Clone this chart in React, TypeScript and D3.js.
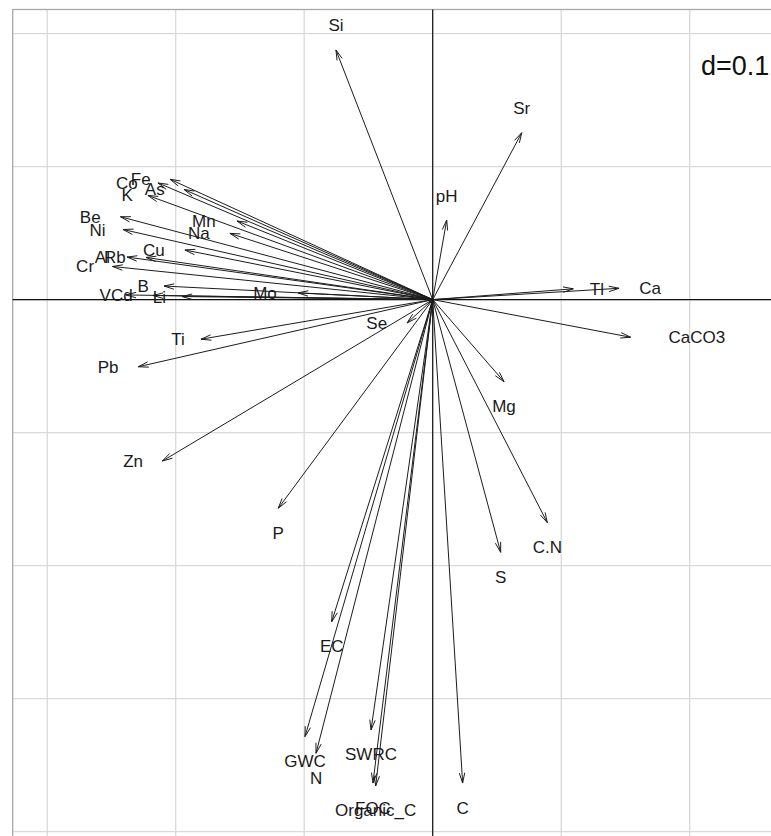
import React, { useEffect, useRef } from "react";
import * as d3 from "d3";

// Variable loadings on the two retained axes (correlation circle style arrows)
const variables = [
  "Si", "Sr", "pH", "Ca", "Tl", "CaCO3", "Mg", "C.N", "S", "C",
  "Organic_C", "FOC", "SWRC", "GWC", "N", "EC", "P", "Zn", "Pb", "Ti",
  "Se", "Mo", "Li", "B", "V", "Cd", "Cr", "Al", "Rb", "Cu",
  "Na", "Mn", "Ni", "Be", "K", "As", "Co", "Fe",
];
const axis1 = [
  -0.0753, 0.0693, 0.0109, 0.145, 0.1094, 0.1541, 0.0555, 0.0892, 0.0529, 0.0233,
  -0.0444, -0.0465, -0.048, -0.0994, -0.0908, -0.0786, -0.1202, -0.2104, -0.2291, -0.1803,
  -0.02, -0.1048, -0.1951, -0.2091, -0.2387, -0.2177, -0.2492, -0.2379, -0.2231, -0.1928,
  -0.1578, -0.1523, -0.241, -0.243, -0.2216, -0.1935, -0.2138, -0.2044,
];
const axis2 = [
  0.1877, 0.1255, 0.0598, 0.0085, 0.0081, -0.0283, -0.0617, -0.1677, -0.19, -0.3635,
  -0.3657, -0.3635, -0.3236, -0.3286, -0.3411, -0.2422, -0.1569, -0.1214, -0.0505, -0.0298,
  -0.0176, 0.005, 0.0023, 0.0102, 0.0035, 0.0031, 0.0249, 0.032, 0.0317, 0.0373,
  0.0498, 0.0591, 0.0527, 0.0623, 0.0783, 0.0828, 0.0877, 0.0905,
];
const gridX = [-0.3, -0.2, -0.1, 0, 0.1, 0.2, 0.3];
const gridY = [-0.5, -0.4, -0.3, -0.2, -0.1, 0, 0.1, 0.2];
const gridLabel = "d=0.1";

const W = 771;
const H = 836;
const FONT = "'Liberation Sans', Arial, sans-serif";
const FS = 17;

export default function App() {
  const ref = useRef<SVGSVGElement>(null);

  useEffect(() => {
    const svg = d3.select(ref.current);
    svg.selectAll("*").remove();

    const x = d3.scaleLinear().domain([0, 0.1]).range([432.7, 561.2]);
    const y = d3.scaleLinear().domain([0, 0.1]).range([299.6, 166.6]);

    const left = 12.7;
    const top = 9.5;
    const right = W + 20;
    const bottom = H + 20;

    // grid
    const g = svg.append("g");
    g.selectAll("line.gx")
      .data(gridX)
      .join("line")
      .attr("x1", (d) => x(d)).attr("x2", (d) => x(d))
      .attr("y1", top).attr("y2", bottom)
      .attr("stroke", "#d9d9d9").attr("stroke-width", 1.3);
    g.selectAll("line.gy")
      .data(gridY)
      .join("line")
      .attr("y1", (d) => y(d)).attr("y2", (d) => y(d))
      .attr("x1", left).attr("x2", right)
      .attr("stroke", "#d9d9d9").attr("stroke-width", 1.3);

    // frame
    svg.append("rect")
      .attr("x", left).attr("y", top)
      .attr("width", right - left).attr("height", bottom - top)
      .attr("fill", "none").attr("stroke", "#a8a8a8").attr("stroke-width", 1.3);

    // grid scale label
    const lg = svg.append("g");
    lg.append("rect").attr("x", 695).attr("y", 46).attr("width", 90).attr("height", 36).attr("fill", "#fff");
    lg.append("text")
      .attr("x", 701).attr("y", 75)
      .attr("font-family", FONT).attr("font-size", 27)
      .attr("fill", "#111")
      .text(gridLabel);

    // axes through the origin
    svg.append("line")
      .attr("x1", left).attr("x2", right).attr("y1", y(0)).attr("y2", y(0))
      .attr("stroke", "#111").attr("stroke-width", 1.2);
    svg.append("line")
      .attr("x1", x(0)).attr("x2", x(0)).attr("y1", top).attr("y2", bottom)
      .attr("stroke", "#111").attr("stroke-width", 1.2);

    const data = variables.map((name, i) => ({ name, a: axis1[i], b: axis2[i] }));

    // arrows
    const ag = svg.append("g").attr("stroke", "#1c1c1c").attr("stroke-width", 1).attr("fill", "none");
    const headLen = 10.5;
    const headAng = (15 * Math.PI) / 180;
    data.forEach((d) => {
      const x0 = x(0), y0 = y(0);
      const x1 = x(d.a), y1 = y(d.b);
      ag.append("line").attr("x1", x0).attr("y1", y0).attr("x2", x1).attr("y2", y1);
      const ang = Math.atan2(y1 - y0, x1 - x0);
      const p = d3.path();
      p.moveTo(x1 - headLen * Math.cos(ang - headAng), y1 - headLen * Math.sin(ang - headAng));
      p.lineTo(x1, y1);
      p.lineTo(x1 - headLen * Math.cos(ang + headAng), y1 - headLen * Math.sin(ang + headAng));
      ag.append("path").attr("d", p.toString());
    });

    // labels placed outward from each arrow tip
    const ctx = document.createElement("canvas").getContext("2d")!;
    ctx.font = `${FS}px ${FONT}`;
    const dy = 24.5;
    const tg = svg.append("g")
      .attr("font-family", FONT).attr("font-size", FS)
      .attr("fill", "#1a1a1a").attr("text-anchor", "middle");
    data.forEach((d) => {
      const w = ctx.measureText(` ${d.name} `).width;
      const px = x(d.a), py = y(d.b);
      let cx = px, cy = py;
      if (d.a > d.b && d.a > -d.b) cx = px + w;
      else if (d.a > d.b && d.a <= -d.b) cy = py + dy;
      else if (d.a <= d.b && d.a <= -d.b) cx = px - w;
      else cy = py - dy;
      tg.append("text").attr("x", cx).attr("y", cy + 6).text(d.name);
    });
  }, []);

  return (
    <svg
      ref={ref}
      width={W}
      height={H}
      style={{ position: "absolute", left: 0, top: 0, background: "#fff" }}
    />
  );
}
